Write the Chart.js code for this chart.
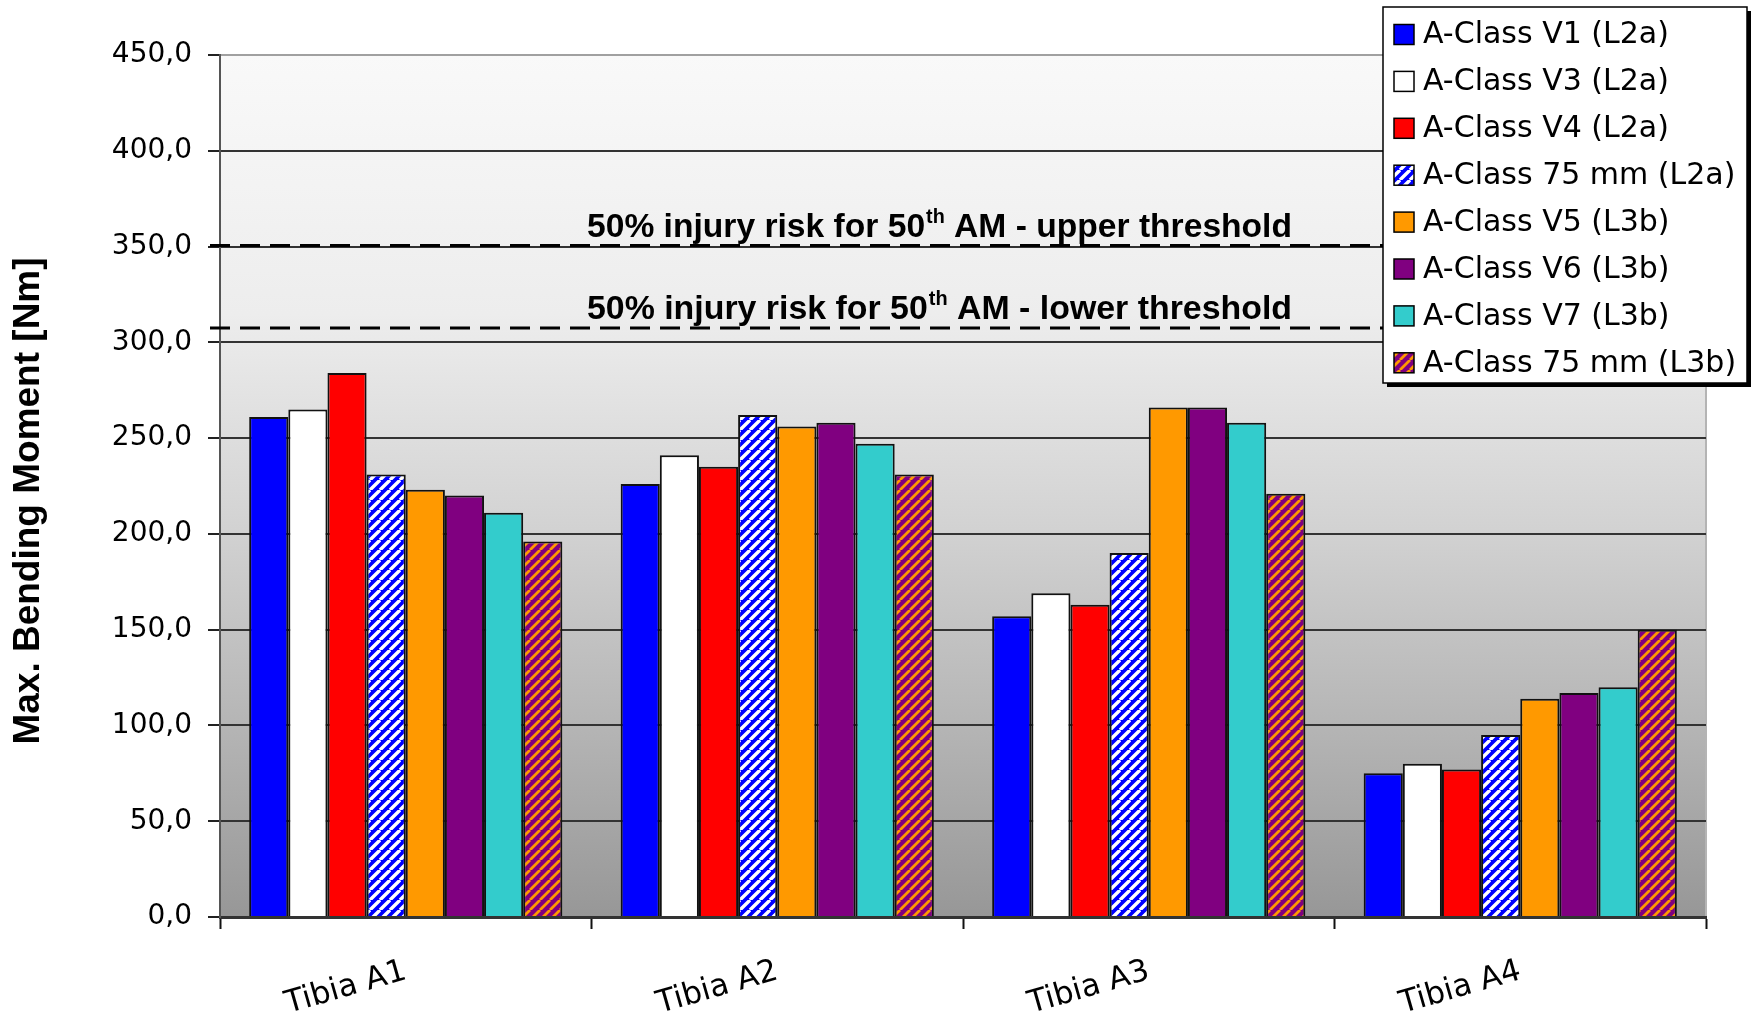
<!DOCTYPE html>
<html>
<head>
<meta charset="utf-8">
<script src="https://cdn.jsdelivr.net/npm/chart.js@4.4.1/dist/chart.umd.min.js"></script>
<style>
  html, body { margin: 0; padding: 0; background: #fff; }
  #wrap { width: 1753px; height: 1015px; }
</style>
</head>
<body>
<div id="wrap"><canvas id="chart" width="1753" height="1015"></canvas></div>
<script>
// categories and series
const categories = ["Tibia A1", "Tibia A2", "Tibia A3", "Tibia A4"];
const seriesNames = [
  "A-Class V1 (L2a)", "A-Class V3 (L2a)", "A-Class V4 (L2a)", "A-Class 75 mm (L2a)",
  "A-Class V5 (L3b)", "A-Class V6 (L3b)", "A-Class V7 (L3b)", "A-Class 75 mm (L3b)"
];
const v1L2a   = [261, 226, 157, 75];
const v3L2a   = [265, 241, 169, 80];
const v4L2a   = [284, 235, 163, 77];
const mm75L2a = [231, 262, 190, 95];
const v5L3b   = [223, 256, 266, 114];
const v6L3b   = [220, 258, 266, 117];
const v7L3b   = [211, 247, 258, 120];
const mm75L3b = [196, 231, 221, 150];

// y axis
const yMin = 0, yMax = 450, yStep = 50;
const yTitle = "Max. Bending Moment [Nm]";

// threshold lines
const thresholdValues = [350, 307];
const thresholdLabels = [
  ["50% injury risk for 50", "th", " AM - upper threshold"],
  ["50% injury risk for 50", "th", " AM - lower threshold"]
];

// diagonal stripe fill ("/" direction)
function stripes(bg, fg, width) {
  const s = 10;
  const c = document.createElement("canvas");
  c.width = s; c.height = s;
  const g = c.getContext("2d");
  g.fillStyle = bg;
  g.fillRect(0, 0, s, s);
  g.strokeStyle = fg;
  g.lineWidth = width;
  g.beginPath();
  for (let o = -s; o <= s; o += s) {
    g.moveTo(o, s);
    g.lineTo(o + s, 0);
  }
  g.stroke();
  return g.createPattern(c, "repeat");
}

const fills = [
  "#0000ff", "#ffffff", "#ff0000", stripes("#0000ff", "#ffffff", 3.4),
  "#ff9900", "#800080", "#33cccc", stripes("#800080", "#ff9900", 2.8)
];
const values = [v1L2a, v3L2a, v4L2a, mm75L2a, v5L3b, v6L3b, v7L3b, mm75L3b];

// gray gradient behind the plot
const plotBg = {
  id: "plotBg",
  beforeDraw(chart) {
    const { ctx, chartArea: a } = chart;
    const g = ctx.createLinearGradient(0, a.top, 0, a.bottom);
    g.addColorStop(0, "#f9f9f9");
    g.addColorStop(0.3, "#ededed");
    g.addColorStop(0.55, "#d2d2d2");
    g.addColorStop(0.8, "#b2b2b2");
    g.addColorStop(1, "#979797");
    ctx.save();
    ctx.fillStyle = g;
    ctx.fillRect(a.left, a.top, a.right - a.left, a.bottom - a.top);
    ctx.strokeStyle = "#b4b4b4";
    ctx.lineWidth = 2;
    ctx.beginPath();
    ctx.moveTo(a.right, a.top);
    ctx.lineTo(a.right, a.bottom);
    ctx.stroke();
    ctx.restore();
  }
};

// dashed threshold lines with labels
const thresholds = {
  id: "thresholds",
  afterDatasetsDraw(chart) {
    const { ctx, chartArea: a, scales: { y } } = chart;
    const big = 'bold 34px "Liberation Sans Narrow", "Liberation Sans", Arial, sans-serif';
    const small = 'bold 20px "Liberation Sans Narrow", "Liberation Sans", Arial, sans-serif';
    thresholdValues.forEach((v, i) => {
      const py = y.getPixelForValue(v) - 1;
      ctx.save();
      ctx.strokeStyle = "#000";
      ctx.lineWidth = 3;
      ctx.setLineDash([20, 10]);
      ctx.beginPath();
      ctx.moveTo(a.left - 10, py);
      ctx.lineTo(a.right, py);
      ctx.stroke();
      ctx.setLineDash([]);

      const parts = thresholdLabels[i];
      ctx.font = big;
      const w0 = ctx.measureText(parts[0]).width;
      const w2 = ctx.measureText(parts[2]).width;
      ctx.font = small;
      const w1 = ctx.measureText(parts[1]).width;
      const sx = 704 / (w0 + w1 + w2);
      ctx.translate(a.left + 367, py - 9);
      ctx.scale(sx, 1);
      ctx.fillStyle = "#000";
      ctx.textBaseline = "alphabetic";
      ctx.textAlign = "left";
      ctx.font = big;
      ctx.fillText(parts[0], 0, 0);
      ctx.font = small;
      ctx.fillText(parts[1], w0 + 1, -14);
      ctx.font = big;
      ctx.fillText(parts[2], w0 + w1 + 1, 0);
      ctx.restore();
    });
  }
};

// y axis title, a little below the middle of the axis like the original
const axisTitle = {
  id: "axisTitle",
  afterDraw(chart) {
    const c = chart.ctx;
    c.save();
    c.translate(29, 501);
    c.rotate(-Math.PI / 2);
    c.font = 'bold 37px "Liberation Sans", Arial, sans-serif';
    c.fillStyle = "#000";
    c.textAlign = "center";
    c.textBaseline = "middle";
    c.fillText(yTitle, 0, 0);
    c.restore();
  }
};

// boxed legend over the top right corner
const boxLegend = {
  id: "boxLegend",
  afterDraw(chart) {
    const c = chart.ctx;
    const x = 1383, y = 7, w = 364, h = 376;
    c.save();
    c.fillStyle = "#000";
    c.fillRect(x + 4, y + 4, w, h);
    c.fillStyle = "#fff";
    c.fillRect(x, y, w, h);
    c.strokeStyle = "#000";
    c.lineWidth = 1.5;
    c.strokeRect(x, y, w, h);
    c.font = '30px "DejaVu Sans", sans-serif';
    c.textBaseline = "middle";
    c.textAlign = "left";
    chart.data.datasets.forEach((ds, i) => {
      const cy = y + 27.5 + i * 46.9;
      c.fillStyle = ds.backgroundColor;
      c.fillRect(x + 11, cy - 10, 20, 20);
      c.strokeStyle = "#000";
      c.lineWidth = 1.5;
      c.strokeRect(x + 11, cy - 10, 20, 20);
      c.fillStyle = "#000";
      c.fillText(ds.label, x + 40, cy + 1);
    });
    c.restore();
  }
};

const ctx = document.getElementById("chart").getContext("2d");
new Chart(ctx, {
  type: "bar",
  data: {
    labels: categories,
    datasets: seriesNames.map((name, i) => ({
      label: name,
      data: values[i],
      backgroundColor: fills[i],
      borderColor: "#111",
      borderWidth: 2,
      categoryPercentage: 0.843,
      barPercentage: 1
    }))
  },
  options: {
    responsive: false,
    animation: false,
    layout: { padding: { top: 55, right: 47, left: 0, bottom: 0 } },
    plugins: {
      legend: { display: false },
      tooltip: { enabled: false }
    },
    scales: {
      x: {
        grid: { offset: true, drawOnChartArea: false, tickLength: 12, tickColor: "#111", tickWidth: 2 },
        border: { color: "#333", width: 3 },
        ticks: {
          minRotation: 16,
          maxRotation: 16,
          padding: 24,
          color: "#000",
          font: { family: "DejaVu Sans", size: 31 }
        },
        afterFit: s => { s.height = 98; }
      },
      y: {
        min: yMin,
        max: yMax,
        ticks: {
          stepSize: yStep,
          padding: 16,
          color: "#000",
          font: { family: "DejaVu Sans", size: 28 },
          callback: v => v.toFixed(1).replace(".", ",")
        },
        grid: {
          color: c => (c.tick && c.tick.value === yMax ? "#a0a0a0" : "#333"),
          lineWidth: 2,
          tickLength: 12,
          tickColor: "#222",
          tickWidth: 2
        },
        border: { color: "#555", width: 2 },
        afterFit: s => { s.width = 220; }
      }
    }
  },
  plugins: [plotBg, thresholds, axisTitle, boxLegend]
});
</script>
</body>
</html>
